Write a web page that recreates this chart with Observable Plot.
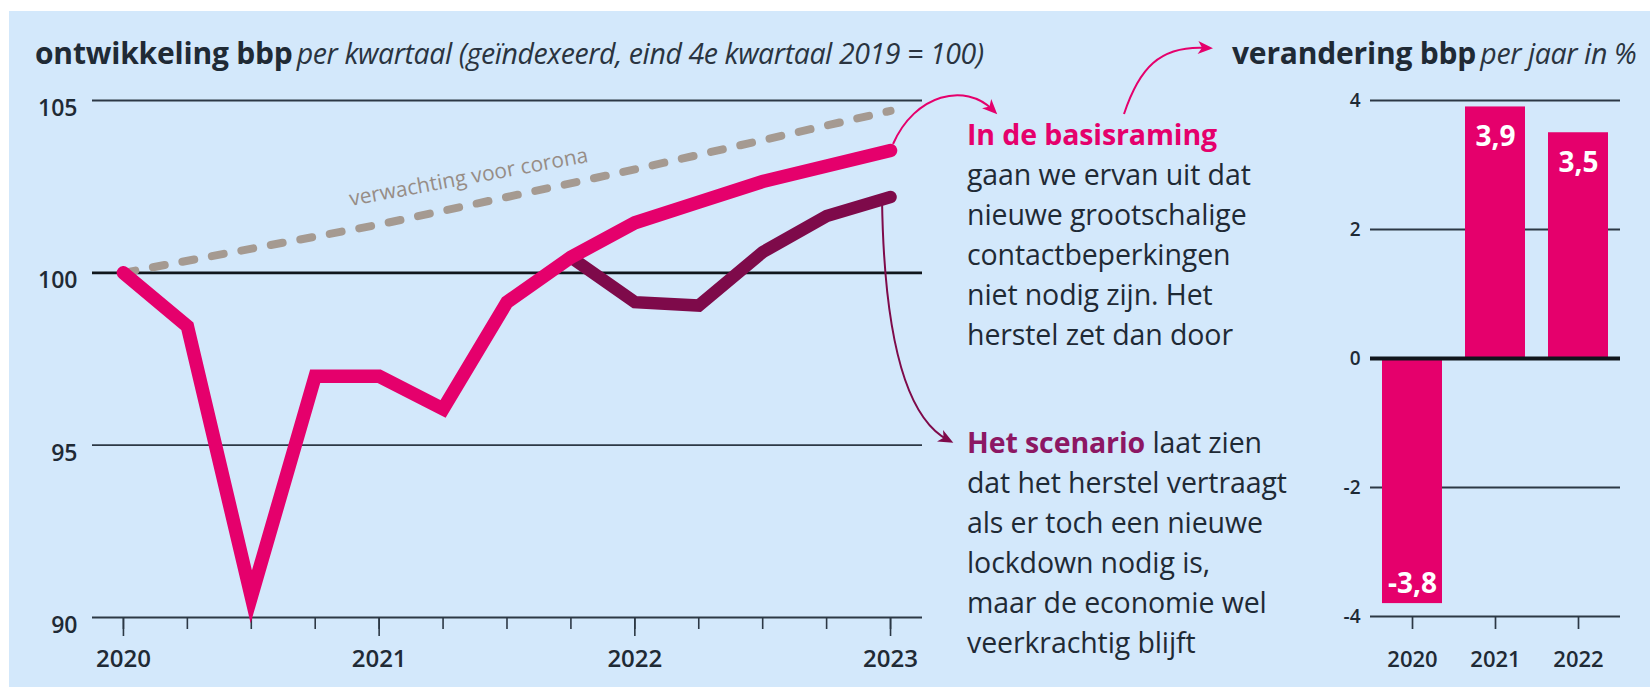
<!DOCTYPE html>
<html><head><meta charset="utf-8">
<script src="https://cdn.jsdelivr.net/npm/d3@7"></script>
<script src="https://cdn.jsdelivr.net/npm/@observablehq/plot@0.6"></script>
<style>
html,body{margin:0;padding:0;background:#ffffff;}
#wrap{position:relative;width:1650px;height:687px;background:#ffffff;overflow:hidden;font-family:"Open Sans",sans-serif;color:#1f2a35;}
#bg{position:absolute;left:9px;top:11px;right:0;bottom:0;background:#d3e8fb;}
.abs{position:absolute;}
.title{white-space:nowrap;line-height:30px;}
.title b{font-weight:700;font-size:30px;letter-spacing:-0.2px;color:#1f2a35;}
.title i{font-style:italic;font-weight:400;font-size:28.5px;letter-spacing:-0.4px;color:#2a3440;}
.note{font-size:28.5px;line-height:40px;white-space:nowrap;color:#1f2a35;letter-spacing:-0.1px;}
svg{overflow:visible;}
</style></head><body><div id="wrap"><div id="bg"></div></div>
<script>
// ---------- data ----------
const quarterX = [2020, 2020.25, 2020.5, 2020.75, 2021, 2021.25, 2021.5, 2021.75, 2022, 2022.25, 2022.5, 2022.75, 2023];
const basisraming = [100, 98.45, 90.6, 97.0, 97.0, 96.05, 99.15, 100.45, 101.45, 102.05, 102.65, 103.1, 103.55];
const scenarioX = [2021.75, 2022, 2022.25, 2022.5, 2022.75, 2023];
const scenario = [100.45, 99.15, 99.05, 100.6, 101.65, 102.2];
const preCoronaX = [2020, 2021, 2022, 2023];
const preCorona = [100, 101.4, 103.0, 104.7];
const yearTicks = [2020, 2021, 2022, 2023];
const lineYTicks = [90, 95, 100, 105];
const preCoronaLabel = [{x: 2021.35, y: 101.96, text: "verwachting voor corona"}];

const barYears = ["2020", "2021", "2022"];
const barValues = [-3.8, 3.9, 3.5];
const barYTicks = [-4, -2, 0, 2, 4];

// ---------- style ----------
const PINK = "#e5006c";
const PURPLE = "#7e0a4a";
const PURPLE_TXT = "#8c1763";
const GREY = "#a59a91";
const GRID = "#2c3845";
const INK = "#1f2a35";
const FONT = "Open Sans";

const wrap = document.getElementById("wrap");

// ---------- line chart ----------
const lineChart = Plot.plot({
  width: 940, height: 687,
  marginLeft: 92, marginRight: 18, marginTop: 100, marginBottom: 70,
  style: {background: "transparent", fontFamily: FONT, color: INK, overflow: "visible"},
  x: {domain: [2019.879, 2023.125]},
  y: {domain: [90, 105]},
  marks: [
    Plot.ruleY([95, 105, 90], {stroke: GRID, strokeWidth: 1.8}),
    Plot.ruleY([100], {stroke: "#10161c", strokeWidth: 2.8}),
    Plot.axisY({ticks: lineYTicks, tickSize: 0, tickPadding: 15, dy: 8, fontSize: 23, fontWeight: 600, tickFormat: d => String(d), label: null}),
    Plot.axisX({ticks: quarterX, tickSize: 12, tickFormat: () => "", label: null, stroke: GRID, strokeWidth: 1.6}),
    Plot.axisX({ticks: yearTicks, tickSize: 19, tickPadding: 13, fontSize: 24, fontWeight: 600, tickFormat: d => String(d), label: null, stroke: GRID, strokeWidth: 1.6}),
    Plot.line(preCorona, {x: preCoronaX, y: preCorona, stroke: GREY, strokeWidth: 8, strokeDasharray: "12,18", strokeLinecap: "round"}),
    Plot.text(preCoronaLabel, {x: "x", y: "y", text: "text", rotate: -10.5, dy: -28, fill: "#978d86", fontSize: 21}),
    Plot.line(scenario, {x: scenarioX, y: scenario, stroke: PURPLE, strokeWidth: 12.5, strokeLinejoin: "miter", strokeMiterlimit: 10, strokeLinecap: "round"}),
    Plot.line(basisraming, {x: quarterX, y: basisraming, stroke: PINK, strokeWidth: 13.5, strokeLinejoin: "miter", strokeMiterlimit: 10, strokeLinecap: "round"})
  ]
});
lineChart.style.position = "absolute";
lineChart.style.left = "0px";
lineChart.style.top = "0px";
wrap.appendChild(lineChart);

// ---------- bar chart ----------
const BAR_LEFT = 1240;
const barLabel = d => d.toFixed(1).replace(".", ",");
const barYear = d => barYears[barValues.indexOf(d)];
const barChart = Plot.plot({
  width: 410, height: 687,
  marginLeft: 130, marginRight: 30, marginTop: 100, marginBottom: 71,
  style: {background: "transparent", fontFamily: FONT, color: INK, overflow: "visible"},
  x: {domain: barYears, paddingInner: 0.28, paddingOuter: 0.13},
  y: {domain: [-4, 4]},
  marks: [
    Plot.ruleY([-4, -2, 2, 4], {stroke: GRID, strokeWidth: 1.8}),
    Plot.barY(barValues, {x: barYear, y: d => d, fill: PINK}),
    Plot.ruleY([0], {stroke: "#10161c", strokeWidth: 4}),
    Plot.axisY({ticks: barYTicks, tickSize: 0, tickPadding: 10, fontSize: 19, fontWeight: 600, tickFormat: d => String(d), label: null}),
    Plot.axisX({tickSize: 13, tickPadding: 22, fontSize: 22, fontWeight: 600, label: null, stroke: GRID, strokeWidth: 1.7}),
    Plot.text(barValues, {filter: d => d > 0, x: barYear, y: d => d, text: barLabel, dy: 30, fill: "white", fontSize: 28, fontWeight: "bold"}),
    Plot.text(barValues, {filter: d => d < 0, x: barYear, y: d => d, text: barLabel, dy: -20, fill: "white", fontSize: 28, fontWeight: "bold"})
  ]
});
barChart.style.position = "absolute";
barChart.style.left = BAR_LEFT + "px";
barChart.style.top = "0px";
wrap.appendChild(barChart);

// ---------- titles ----------
function addDiv(cls, left, top, html) {
  const d = document.createElement("div");
  d.className = "abs " + cls;
  d.style.left = left + "px";
  d.style.top = top + "px";
  d.innerHTML = html;
  wrap.appendChild(d);
  return d;
}
addDiv("title", 35, 38, "<b>ontwikkeling bbp</b> <i>per kwartaal (geïndexeerd, eind 4e kwartaal 2019 = 100)</i>");
addDiv("title", 1232, 38, "<b>verandering bbp</b> <i>per jaar in %</i>");

// ---------- annotations ----------
const NOTE_LEFT = 967;
const NOTE1_TOP = 114;
const NOTE2_TOP = 422;
addDiv("note", NOTE_LEFT, NOTE1_TOP,
  `<b style="color:${PINK}">In de basisraming</b><br>gaan we ervan uit dat<br>nieuwe grootschalige<br>contactbeperkingen<br>niet nodig zijn. Het<br>herstel zet dan door`);
addDiv("note", NOTE_LEFT, NOTE2_TOP,
  `<b style="color:${PURPLE_TXT}">Het scenario</b> laat zien<br>dat het herstel vertraagt<br>als er toch een nieuwe<br>lockdown nodig is,<br>maar de economie wel<br>veerkrachtig blijft`);

// ---------- arrows ----------
const xs = lineChart.scale("x"), ys = lineChart.scale("y");
const svg = d3.select(wrap).append("svg")
  .attr("width", 1650).attr("height", 687)
  .style("position", "absolute").style("left", 0).style("top", 0)
  .style("pointer-events", "none");

function arrow(p0, c1, c2, p1, color) {
  svg.append("path")
    .attr("d", `M${p0[0]},${p0[1]} C${c1[0]},${c1[1]} ${c2[0]},${c2[1]} ${p1[0]},${p1[1]}`)
    .attr("fill", "none").attr("stroke", color).attr("stroke-width", 2);
  const ang = Math.atan2(p1[1] - c2[1], p1[0] - c2[0]);
  const L = 15, W = 6.5;
  const tip = [p1[0] + Math.cos(ang) * 6, p1[1] + Math.sin(ang) * 6];
  const bx = tip[0] - Math.cos(ang) * L, by = tip[1] - Math.sin(ang) * L;
  const px = -Math.sin(ang) * W, py = Math.cos(ang) * W;
  svg.append("path")
    .attr("d", `M${tip[0]},${tip[1]} L${bx + px},${by + py} L${bx + Math.cos(ang) * 4},${by + Math.sin(ang) * 4} L${bx - px},${by - py} Z`)
    .attr("fill", color);
}

// pink: from end of basisraming line to the first note
const b0 = [xs.apply(2023) + 3, ys.apply(basisraming[basisraming.length - 1]) - 6];
arrow(b0, [b0[0] + 22, b0[1] - 50], [b0[0] + 72, b0[1] - 62], [NOTE_LEFT + 26, NOTE1_TOP - 4], PINK);
// pink: from first note up to the bar chart title
arrow([NOTE_LEFT + 157, NOTE1_TOP], [NOTE_LEFT + 172, NOTE1_TOP - 45], [NOTE_LEFT + 192, NOTE1_TOP - 69], [NOTE_LEFT + 240, NOTE1_TOP - 66], PINK);
// purple: from end of scenario line down to the second note
const s0 = [xs.apply(2023) - 8, ys.apply(scenario[scenario.length - 1]) + 4];
arrow(s0, [s0[0] + 2, s0[1] + 130], [s0[0] + 22, NOTE2_TOP - 5], [NOTE_LEFT - 19, NOTE2_TOP + 18], PURPLE);
</script>
</body></html>
